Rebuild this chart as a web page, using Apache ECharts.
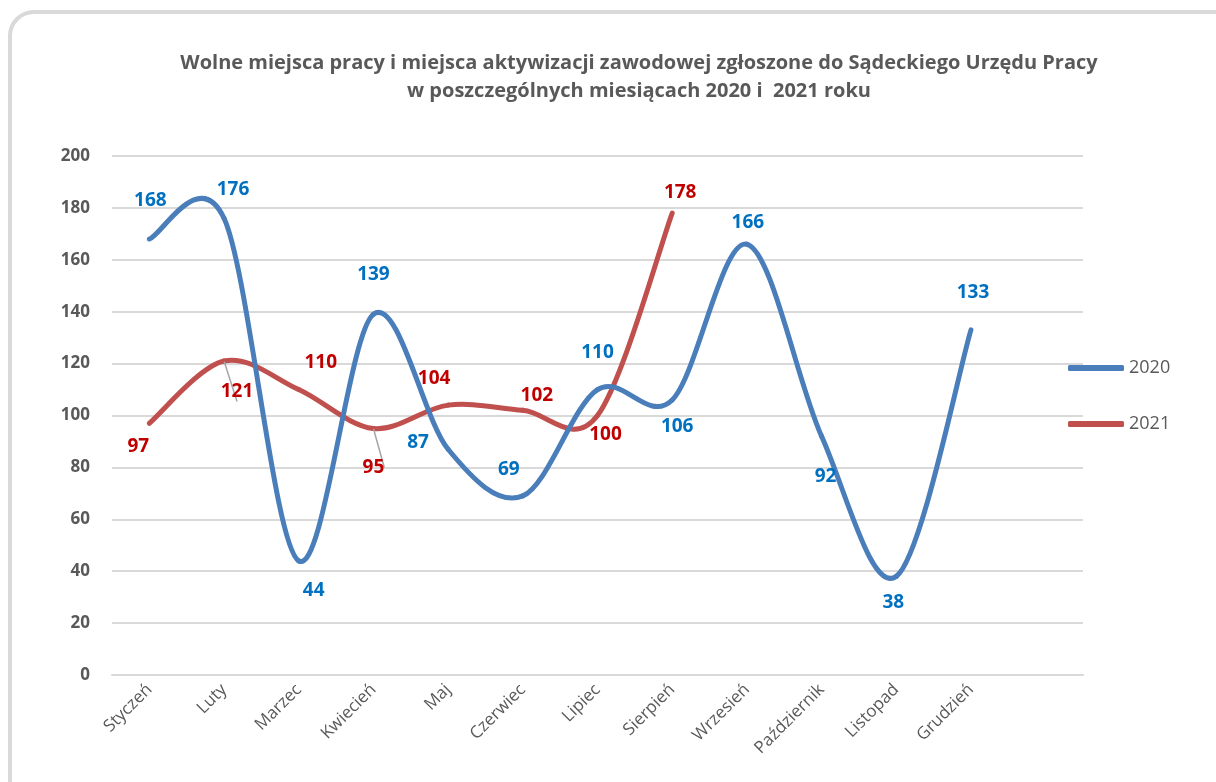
<!DOCTYPE html>
<html>
<head>
<meta charset="utf-8">
<script src="https://cdn.jsdelivr.net/npm/echarts@6/dist/echarts.min.js"></script>
<style>
  html, body { margin: 0; padding: 0; background: #fff; overflow: hidden; }
  #frame {
    position: absolute; left: 8px; top: 10px; width: 1240px; height: 820px;
    border: 4px solid #d9d9d9; border-radius: 26px; box-sizing: border-box;
  }
  #chart { position: absolute; left: 0; top: 0; width: 1216px; height: 782px; }
</style>
</head>
<body>
<div id="frame"></div>
<div id="chart"></div>
<script>
// miesiące (ostatnia pusta kategoria jak w oryginale)
var months = ['Styczeń', 'Luty', 'Marzec', 'Kwiecień', 'Maj', 'Czerwiec', 'Lipiec',
  'Sierpień', 'Wrzesień', 'Październik', 'Listopad', 'Grudzień', ''];
var values2020 = [168, 176, 44, 139, 87, 69, 110, 106, 166, 92, 38, 133];
var values2021 = [97, 121, 110, 95, 104, 102, 100, 178];

// label offsets per point [dx, dy]
var off2020 = [[1, -38], [9, -29], [15, 30], [0, -40], [-30, -7], [-14, -26],
  [0, -37], [5, 27], [1, -22], [4, 40], [-3, 26], [2, -37]];
var off2021 = [[-11, 23], [13, 31], [22, -27], [0, 39], [-14, -27], [14, -15], [8, 19], [8, -20]];
var leader2021 = [false, true, false, true, false, false, false, false];

var blue = '#4a7ebb', red = '#c0504d';
var textGray = '#595959';
var font = 'Open Sans, Noto Sans, sans-serif';

function buildData(vals, offs, leaders) {
  var out = [];
  for (var i = 0; i < vals.length; i++) {
    var item = { value: vals[i], label: { offset: offs[i] } };
    if (leaders && leaders[i]) {
      item.labelLine = { show: true, lineStyle: { color: '#a6a6a6', width: 1.5 } };
    }
    out.push(item);
  }
  return out;
}

// Excel-like smoothed line: one cubic segment per data index
function curveRenderer(vals, color) {
  return function (params, api) {
    var i = params.dataIndex;
    if (i >= vals.length - 1) return null;
    var pt = function (k) {
      k = Math.max(0, Math.min(vals.length - 1, k));
      return api.coord([k, vals[k]]);
    };
    var p0 = pt(i - 1), p1 = pt(i), p2 = pt(i + 1), p3 = pt(i + 2);
    return {
      type: 'bezierCurve',
      shape: {
        x1: p1[0], y1: p1[1],
        cpx1: p1[0] + (p2[0] - p0[0]) / 6, cpy1: p1[1] + (p2[1] - p0[1]) / 6,
        cpx2: p2[0] - (p3[0] - p1[0]) / 6, cpy2: p2[1] - (p3[1] - p1[1]) / 6,
        x2: p2[0], y2: p2[1]
      },
      style: { stroke: color, lineWidth: 5, fill: null, lineCap: 'round' }
    };
  };
}

function indexed(vals) {
  return vals.map(function (v, i) { return [i, v]; });
}

var chart = echarts.init(document.getElementById('chart'));

chart.setOption({
  animation: false,
  title: {
    text: 'Wolne miejsca pracy i miejsca aktywizacji zawodowej zgłoszone do Sądeckiego Urzędu Pracy\nw poszczególnych miesiącach 2020 i  2021 roku',
    left: 634,
    textAlign: 'center',
    top: 44,
    textStyle: {
      fontFamily: font,
      fontSize: 20,
      fontWeight: 'bold',
      color: textGray,
      lineHeight: 28
    }
  },
  legend: {
    orient: 'vertical',
    left: 1063,
    top: 354,
    itemGap: 38,
    itemWidth: 56,
    itemHeight: 6,
    icon: 'roundRect',
    textStyle: { fontFamily: font, fontSize: 18, color: textGray },
    data: ['2020', '2021']
  },
  grid: { left: 112, right: 133, top: 156, bottom: 107 },
  xAxis: {
    type: 'category',
    data: months,
    boundaryGap: true,
    axisTick: { show: false },
    axisLine: { lineStyle: { color: '#d9d9d9', width: 2 } },
    axisLabel: {
      rotate: 45,
      interval: 0,
      margin: 12,
      fontFamily: font,
      fontSize: 17,
      color: textGray
    }
  },
  yAxis: {
    type: 'value',
    min: 0,
    max: 200,
    interval: 20,
    axisLine: { show: false },
    axisTick: { show: false },
    splitLine: { lineStyle: { color: '#d9d9d9', width: 2 } },
    axisLabel: {
      margin: 22,
      fontFamily: font,
      fontSize: 17,
      fontWeight: 'bold',
      color: textGray
    }
  },
  series: [
    {
      name: '2020',
      type: 'line',
      symbol: 'circle',
      symbolSize: 1,
      z: 10,
      data: buildData(values2020, off2020),
      lineStyle: { opacity: 0 },
      itemStyle: { color: blue },
      label: {
        show: true,
        position: 'inside',
        fontFamily: font,
        fontSize: 19,
        fontWeight: 'bold',
        color: '#0070c0'
      }
    },
    {
      name: '2021',
      type: 'line',
      symbol: 'circle',
      symbolSize: 1,
      z: 10,
      data: buildData(values2021, off2021, leader2021),
      lineStyle: { opacity: 0 },
      itemStyle: { color: red },
      label: {
        show: true,
        position: 'inside',
        fontFamily: font,
        fontSize: 19,
        fontWeight: 'bold',
        color: '#c00000'
      }
    },
    {
      name: '2021',
      type: 'custom',
      z: 2,
      data: indexed(values2021),
      renderItem: curveRenderer(values2021, red)
    },
    {
      name: '2020',
      type: 'custom',
      z: 3,
      data: indexed(values2020),
      renderItem: curveRenderer(values2020, blue)
    }
  ]
});
</script>
</body>
</html>
